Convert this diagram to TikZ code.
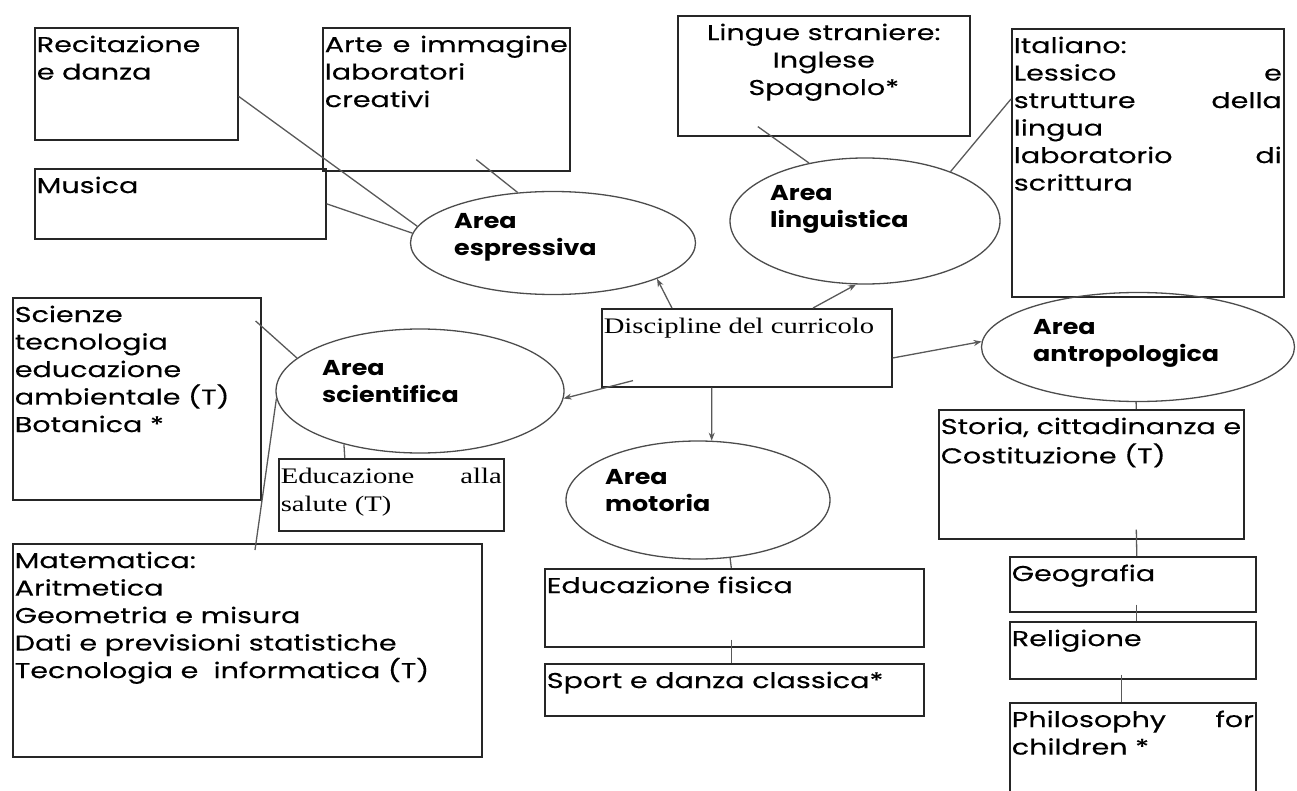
\documentclass[tikz,border=0pt]{standalone}
\usepackage{fontspec}
\setmainfont{Poppins}[UprightFeatures={FakeStretch=1.33, FakeBold=0.3}, BoldFeatures={FakeStretch=1.18}]
\newfontfamily\timesfont{Liberation Serif}[FakeStretch=1.29]
\usetikzlibrary{shapes, arrows.meta, positioning, calc}
\newcommand{\comic}{\fontsize{21.5}{27.5}\selectfont}
\newcommand{\serifsz}{\timesfont\fontsize{22.2}{28}\selectfont}
\newcommand{\cell}[3]{\parbox[t][\dimexpr#2pt-10pt\relax][t]{\dimexpr#1pt-4pt\relax}{\strut#3}}

\begin{document}
\begin{tikzpicture}[x=1pt, y=-1pt,
  box/.style={draw=black!85, line width=1.6pt, anchor=north west, inner xsep=2pt, inner ysep=5pt, font=\comic},
  area/.style={ellipse, draw=black!70, line width=1.3pt, inner sep=0pt},
  arealab/.style={anchor=north west, inner sep=0pt, align=left, font=\comic\bfseries},
  link/.style={draw=black!65, line width=1.3pt},
  arrow/.style={link, -{Stealth[length=8pt, width=6pt]}}]
\useasboundingbox (0,0) rectangle (1297,791);

% centro
\node[box, font=\serifsz] (disc) at (601,308) {\cell{290}{78}{Discipline del curricolo}};

% Area espressiva
\node[area, minimum width=285, minimum height=103] (espr) at (553,243) {};
\node[arealab] (espr-t) at (454,213) {Area\\espressiva};
\node[box] (recit) at (34,27) {\cell{203}{112}{Recitazione\\e danza}};
\node[box] (arte) at (322,27) {\cell{247}{143}{Arte\hfill e\hfill immagine\\laboratori\\creativi}};
\node[box] (musica) at (34,168) {\cell{291}{70}{Musica}};
\draw[link] (recit.-7) -- (espr.173);
\draw[link] (musica.east) -- (espr.176);
\draw[link] ($(arte.south)+(30,-12)$) -- (espr.125);

% Area linguistica
\node[area, minimum width=270, minimum height=126] (ling) at (865,221) {};
\node[arealab] (ling-t) at (770,185) {Area\\linguistica};
\node[box] (lingue) at (677,15) {\cell{292}{120}{\centering Lingue straniere:\\Inglese\\Spagnolo*}};
\node[box] (ital) at (1011,28) {\cell{272}{268}{Italiano:\\Lessico\hfill e\\strutture\hfill della\\lingua\\laboratorio\hfill di\\scrittura}};
\draw[link] ($(lingue.south)+(-66,-10)$) -- (ling.134);
\draw[link] (ital.155) -- (ling.30);

% Area scientifica
\node[area, minimum width=288, minimum height=124] (scie) at (420,391) {};
\node[arealab] (scie-t) at (322,360) {Area\\scientifica};
\node[box] (scien) at (12,297) {\cell{248}{202}{Scienze\\tecnologia\\educazione\\ambientale (T)\\Botanica *}};
\node[box, font=\serifsz] (salute) at (278,458) {\cell{225}{72}{Educazione\hfill alla\\salute (T)}};
\node[box] (mate) at (12,543) {\cell{469}{213}{Matematica:\\Aritmetica\\Geometria e misura\\Dati e previsioni statistiche\\Tecnologia e\ \ informatica (T)}};
\draw[link] ($(scien.north east)+(-6,24)$) -- (scie.165);
\draw[link] ($(mate.north west)+(243,7)$) -- (scie.183);
\draw[link] (scie.215) -- ($(salute.north)+(-46.5,0)$);

% Area antropologica
\node[area, minimum width=313, minimum height=109] (antr) at (1138,347) {};
\node[arealab] (antr-t) at (1033,319) {Area\\antropologica};
\node[box] (storia) at (938,409) {\cell{305}{129}{\mbox{Storia, cittadinanza e}\\Costituzione (T)}};
\node[box] (geo) at (1009,556) {\cell{246}{55}{Geografia}};
\node[box] (rel) at (1009,621) {\cell{246}{57}{Religione}};
\node[box] (philo) at (1009,702) {\cell{246}{110}{Philosophy\hfill for\\children *}};
\draw[link] (antr.-92) -- ($(storia.north)+(45,0)$);
\draw[link] ($(storia.south)+(45,-10)$) -- ($(geo.north)+(4,0)$);
\draw[link] ($(geo.south)+(4,-8)$) -- ($(rel.north)+(4,0)$);
\draw[link] ($(rel.south)+(-11,-5)$) -- ($(philo.north)+(-11,0)$);

% Area motoria
\node[area, minimum width=264, minimum height=118] (moto) at (698,500) {};
\node[arealab] (moto-t) at (605,469) {Area\\motoria};
\node[box] (fisica) at (544,568) {\cell{379}{78}{Educazione fisica}};
\node[box] (sport) at (544,663) {\cell{379}{52}{Sport e danza classica*}};
\draw[link] (moto.-61) -- ($(fisica.north)+(-3,0)$);
\draw[link] ($(fisica.south)+(-3,-8)$) -- ($(sport.north)+(-3,0)$);

% frecce
\draw[arrow] (disc.152) -- (espr.-19);
\draw[arrow] (disc.31) -- (ling.-98);
\draw[arrow] ($(disc.south west)+(32,-7)$) -- (scie.-3);
\draw[arrow] (disc.-4) -- (antr.178);
\draw[arrow] ($(disc.south)+(-35,0)$) -- (moto.77);
\end{tikzpicture}
\end{document}
